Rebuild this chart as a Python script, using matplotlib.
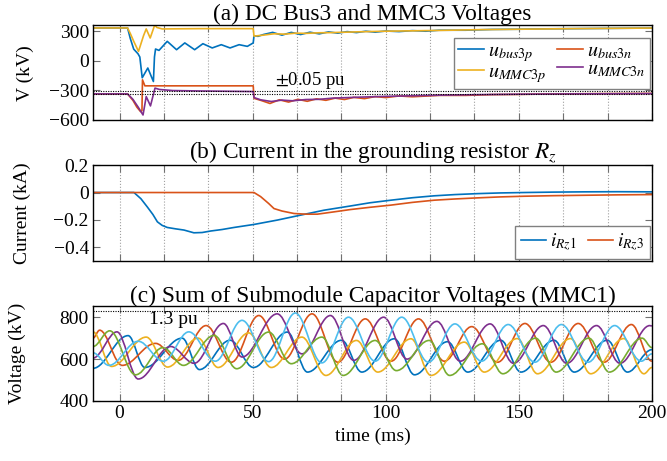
import numpy as np
import matplotlib
matplotlib.use('Agg')
import matplotlib.pyplot as plt
from matplotlib.path import Path
from matplotlib.patches import PathPatch

plt.rcParams['font.family'] = ['Liberation Serif', 'DejaVu Serif']
plt.rcParams['mathtext.fontset'] = 'stix'
plt.rcParams['font.size'] = 14

BLUE, ORANGE, YELLOW = '#0072BD', '#D95319', '#EDB120'
PURPLE, GREEN, CYAN = '#7E2F8E', '#77AC30', '#4DBEEE'

# ---------------- (a) DC bus3 / MMC3 voltages (kV) ----------------
bus3p_t = [-10, 3, 4, 5.3, 6.9, 7.6, 8.5, 10.6, 12.7, 13.1, 13.5, 14.8, 17.9, 21.4, 24.5, 28.2,
           31.3, 34.8, 38.2, 41.5, 44.9, 48, 50.2, 50.5, 52, 54, 57.5, 61, 64.5, 68, 71.5, 75,
           78.5, 82, 85.5, 89, 92.5, 96, 100, 105, 110, 115, 120, 130, 140, 150, 160, 170, 180, 190, 200]
bus3p_v = [335, 335, 230, 120, 73, 40, -171, -72, -209, 40, 121, 107, 199, 114, 183, 114,
           175, 132, 165, 132, 165, 148, 183, 255, 250, 268, 290, 262, 290, 268, 292, 275,
           295, 282, 298, 288, 302, 292, 304, 298, 308, 302, 312, 312, 320, 322, 326, 328, 330, 332, 334]

mmc3p_t = [-10, 3, 4, 5.3, 7.1, 9, 10, 11.5, 13.2, 14, 16, 30, 50.2, 50.5, 54, 58, 62, 66, 70,
           75, 80, 90, 100, 110, 120, 136, 150, 170, 200]
mmc3p_v = [335, 335, 280, 200, 97, 257, 325, 233, 365, 340, 325, 328, 328, 252, 262, 276, 272, 282, 280,
           286, 288, 296, 302, 306, 310, 318, 322, 328, 334]

bus3n_t = [-10, 3, 5, 6.5, 7.9, 8.4, 8.6, 9.5, 50.2, 50.5, 53, 56.5, 60, 63.5, 67, 70.5, 74,
           77.5, 81, 84.5, 88, 92, 96, 100, 105, 110, 120, 130, 140, 150, 160, 180, 200]
bus3n_v = [-335, -335, -400, -470, -515, -505, -192, -253, -253, -380, -400, -432, -395, -418, -390, -410, -385,
           -400, -378, -392, -370, -383, -362, -372, -356, -364, -350, -350, -342, -340, -336, -332, -330]

mmc3n_t = [-10, 3, 5, 7, 8.8, 10, 11.6, 13.3, 15, 20, 30, 50.2, 50.5, 53, 57, 61, 65, 70, 75,
           80, 90, 100, 110, 120, 136, 150, 170, 200]
mmc3n_v = [-335, -335, -390, -470, -549, -362, -457, -276, -290, -301, -305, -311, -372, -395, -412, -398, -405, -392, -390,
           -378, -368, -360, -354, -348, -342, -338, -335, -332]

# ---------------- (b) grounding resistor currents (kA) ----------------
irz1_t = [-10, 5.4, 8, 10.4, 12.5, 14.2, 16, 17.9, 21, 24.2, 27.9, 31, 34.2, 38.5, 43, 50.5, 59.3,
          68, 76.8, 86.8, 94, 101.9, 110, 118.2, 126, 134.5, 143, 152, 163, 174.6, 187, 200]
irz1_v = [0, 0, -0.045, -0.105, -0.16, -0.214, -0.24, -0.255, -0.265, -0.274, -0.294, -0.292, -0.281,
          -0.27, -0.255, -0.233, -0.201, -0.165, -0.129, -0.098, -0.075, -0.056, -0.038, -0.024, -0.015,
          -0.008, -0.003, 0.0, 0.003, 0.005, 0.006, 0.005]
irz3_t = [-10, 50.5, 53, 56, 58, 61, 65.5, 70, 74.3, 80.6, 86.8, 94, 101.9, 110, 118.2, 126, 134.5,
          143, 152, 163, 174.6, 187, 200]
irz3_v = [0, 0, -0.03, -0.08, -0.117, -0.135, -0.153, -0.158, -0.158, -0.141, -0.124, -0.108, -0.092,
          -0.072, -0.056, -0.047, -0.039, -0.032, -0.027, -0.023, -0.020, -0.017, -0.015]

# ---------------- (c) sum of SM capacitor voltages, extrema (kV) ----------------
c_blue_t = [-10, 3.2, 9.5, 23.5, 30, 41.5, 50.3, 63, 70.6, 83.4, 91, 103.2, 110.8, 123.2, 130.8,
            143.2, 150.8, 163.2, 170.8, 183.2, 190.8, 200]
c_blue_v = [556, 712, 560, 700, 550, 690, 560, 729, 538, 690, 538, 697, 525, 683, 538,
            690, 538, 690, 538, 690, 538, 645]
c_orange_t = [-10, -7.5, 1, 13.5, 22, 32.5, 42, 52.3, 62, 72.3, 82, 92.3, 102, 112.3, 122, 132.3,
              142, 152.3, 162, 172.3, 182, 192.3, 200]
c_orange_v = [700, 738, 570, 675, 594, 760, 585, 808, 600, 816, 585, 792, 590, 792, 590, 755,
              585, 770, 585, 770, 585, 765, 590]
c_yellow_t = [-10, -3, 10, 18, 29.5, 37, 48.5, 57, 68.5, 77.5, 89, 97, 109.5, 117, 129.5, 137,
              149.4, 157, 169.4, 177, 189.4, 197, 200]
c_yellow_v = [730, 565, 705, 562, 700, 560, 725, 560, 705, 522, 689, 538, 697, 522, 681, 538,
              698, 530, 698, 530, 698, 530, 560]
c_purple_t = [-10, -1, 7, 19.2, 28, 39, 46, 59.2, 68.5, 79.2, 88, 99.2, 108, 119.2, 128, 139.2,
              148, 159.2, 168, 179.2, 188, 199.2, 200]
c_purple_v = [605, 730, 505, 660, 580, 770, 610, 816, 625, 808, 594, 800, 600, 780, 590, 768,
              580, 760, 580, 760, 580, 760, 758]
c_green_t = [-10, -3.7, 6, 16.3, 24, 35.5, 44, 56, 64.5, 76, 84, 96, 104, 116.3, 124, 136.3,
             144, 156.3, 164, 176.3, 184, 196.3, 200]
c_green_v = [660, 735, 525, 655, 570, 713, 554, 729, 578, 705, 522, 689, 545, 689, 522, 673,
             530, 700, 538, 700, 538, 700, 655]
c_cyan_t = [-10, -4, 7, 16.5, 26, 36, 46, 56, 66, 76, 86, 96, 106, 116, 126, 136, 146, 156, 166,
            176, 186, 196, 200]
c_cyan_v = [630, 570, 685, 590, 730, 590, 785, 588, 820, 582, 800, 590, 800, 585, 768, 590, 765,
            585, 765, 585, 760, 590, 625]

xticks = np.linspace(0, 200, 13)
xlabels = ['0', '', '', '50', '', '', '100', '', '', '150', '', '', '200']


def smooth(ax, t, v, color):
    # smooth curve through extrema (horizontal tangents at each extremum)
    verts = [(t[0], v[0])]
    codes = [Path.MOVETO]
    for i in range(1, len(t)):
        d = (t[i] - t[i - 1]) * 0.36
        verts += [(t[i - 1] + d, v[i - 1]), (t[i] - d, v[i]), (t[i], v[i])]
        codes += [Path.CURVE4] * 3
    ax.add_patch(PathPatch(Path(verts, codes), fill=False, ec=color, lw=1.2))


def style(ax, bottom_labels=False):
    ax.set_xlim(-10, 200)
    ax.set_xticks(xticks, xlabels if bottom_labels else [''] * len(xticks))
    ax.grid(axis='x', ls=':', color='#a0a0a0', lw=0.8)
    ax.tick_params(direction='in', top=True, right=True, length=5, color='#707070', pad=3)
    for s in ax.spines.values():
        s.set_linewidth(1.0)


fig = plt.figure(figsize=(6.67, 4.61), dpi=100)
ax_a = fig.add_axes([0.1394, 0.7397, 0.838, 0.205])
ax_b = fig.add_axes([0.1394, 0.4338, 0.838, 0.208])
ax_c = fig.add_axes([0.1394, 0.1302, 0.838, 0.2067])

# (a)
l1, = ax_a.plot(bus3p_t, bus3p_v, color=BLUE, lw=1.2)
l2, = ax_a.plot(bus3n_t, bus3n_v, color=ORANGE, lw=1.2)
l3, = ax_a.plot(mmc3p_t, mmc3p_v, color=YELLOW, lw=1.2)
l4, = ax_a.plot(mmc3n_t, mmc3n_v, color=PURPLE, lw=1.2)
for yv in (-304, -336):
    ax_a.axhline(yv, color='k', ls=(0, (1, 1.2)), lw=0.8)
ax_a.text(58.5, -200, r'$\pm$0.05 pu', ha='left', va='center', fontsize=13.5)
style(ax_a)
ax_a.set_ylim(-600, 360)
ax_a.set_yticks([-600, -300, 0, 300], ['\u2212600', '\u2212300', '0', '300'])
ax_a.set_ylabel('V (kV)')
ax_a.yaxis.set_label_coords(-0.105, 0.5)
ax_a.set_title('(a) DC Bus3 and MMC3 Voltages', pad=3)
ax_a.legend([l1, l3, l2, l4],
            [r'$u_{\mathit{bus3p}}$', r'$u_{\mathit{MMC3p}}$', r'$u_{\mathit{bus3n}}$', r'$u_{\mathit{MMC3n}}$'],
            ncol=2, loc='upper right', bbox_to_anchor=(1.0, 0.889), borderaxespad=0.1,
            fancybox=False, edgecolor='#808080', framealpha=1, handlelength=1.3, fontsize=14.5,
            handletextpad=0.2, columnspacing=0.5, labelspacing=-0.05, borderpad=0.2)

# (b)
m1, = ax_b.plot(irz1_t, irz1_v, color=BLUE, lw=1.2)
m2, = ax_b.plot(irz3_t, irz3_v, color=ORANGE, lw=1.2)
style(ax_b)
ax_b.set_ylim(-0.5, 0.2)
ax_b.set_yticks([-0.4, -0.2, 0, 0.2], ['\u22120.4', '\u22120.2', '0', '0.2'])
ax_b.set_ylabel('Current (kA)')
ax_b.yaxis.set_label_coords(-0.11, 0.5)
ax_b.set_title(r'(b) Current in the grounding resistor $R_z$', pad=3)
ax_b.legend([m1, m2], [r'$i_{Rz1}$', r'$i_{Rz3}$'], ncol=2, loc='lower right',
            borderaxespad=0.1, fancybox=False, edgecolor='#808080', framealpha=1,
            handlelength=1.3, handletextpad=0.2, columnspacing=0.6, borderpad=0.3)

# (c)
for tt, vv, cc in [(c_blue_t, c_blue_v, BLUE), (c_orange_t, c_orange_v, ORANGE),
                   (c_yellow_t, c_yellow_v, YELLOW), (c_purple_t, c_purple_v, PURPLE),
                   (c_green_t, c_green_v, GREEN), (c_cyan_t, c_cyan_v, CYAN)]:
    smooth(ax_c, tt, vv, cc)
ax_c.axhline(832, color='k', ls=(0, (1, 1.2)), lw=0.8)
ax_c.text(11, 789, '1.3 pu', ha='left', va='center')
style(ax_c, bottom_labels=True)
ax_c.set_ylim(400, 855)
ax_c.set_yticks([400, 600, 800])
ax_c.set_ylabel('Voltage (kV)')
ax_c.yaxis.set_label_coords(-0.12, 0.5)
ax_c.set_xlabel('time (ms)', labelpad=4)
ax_c.set_title('(c) Sum of Submodule Capacitor Voltages (MMC1)', pad=3)

fig.savefig('out.png', dpi=100)
